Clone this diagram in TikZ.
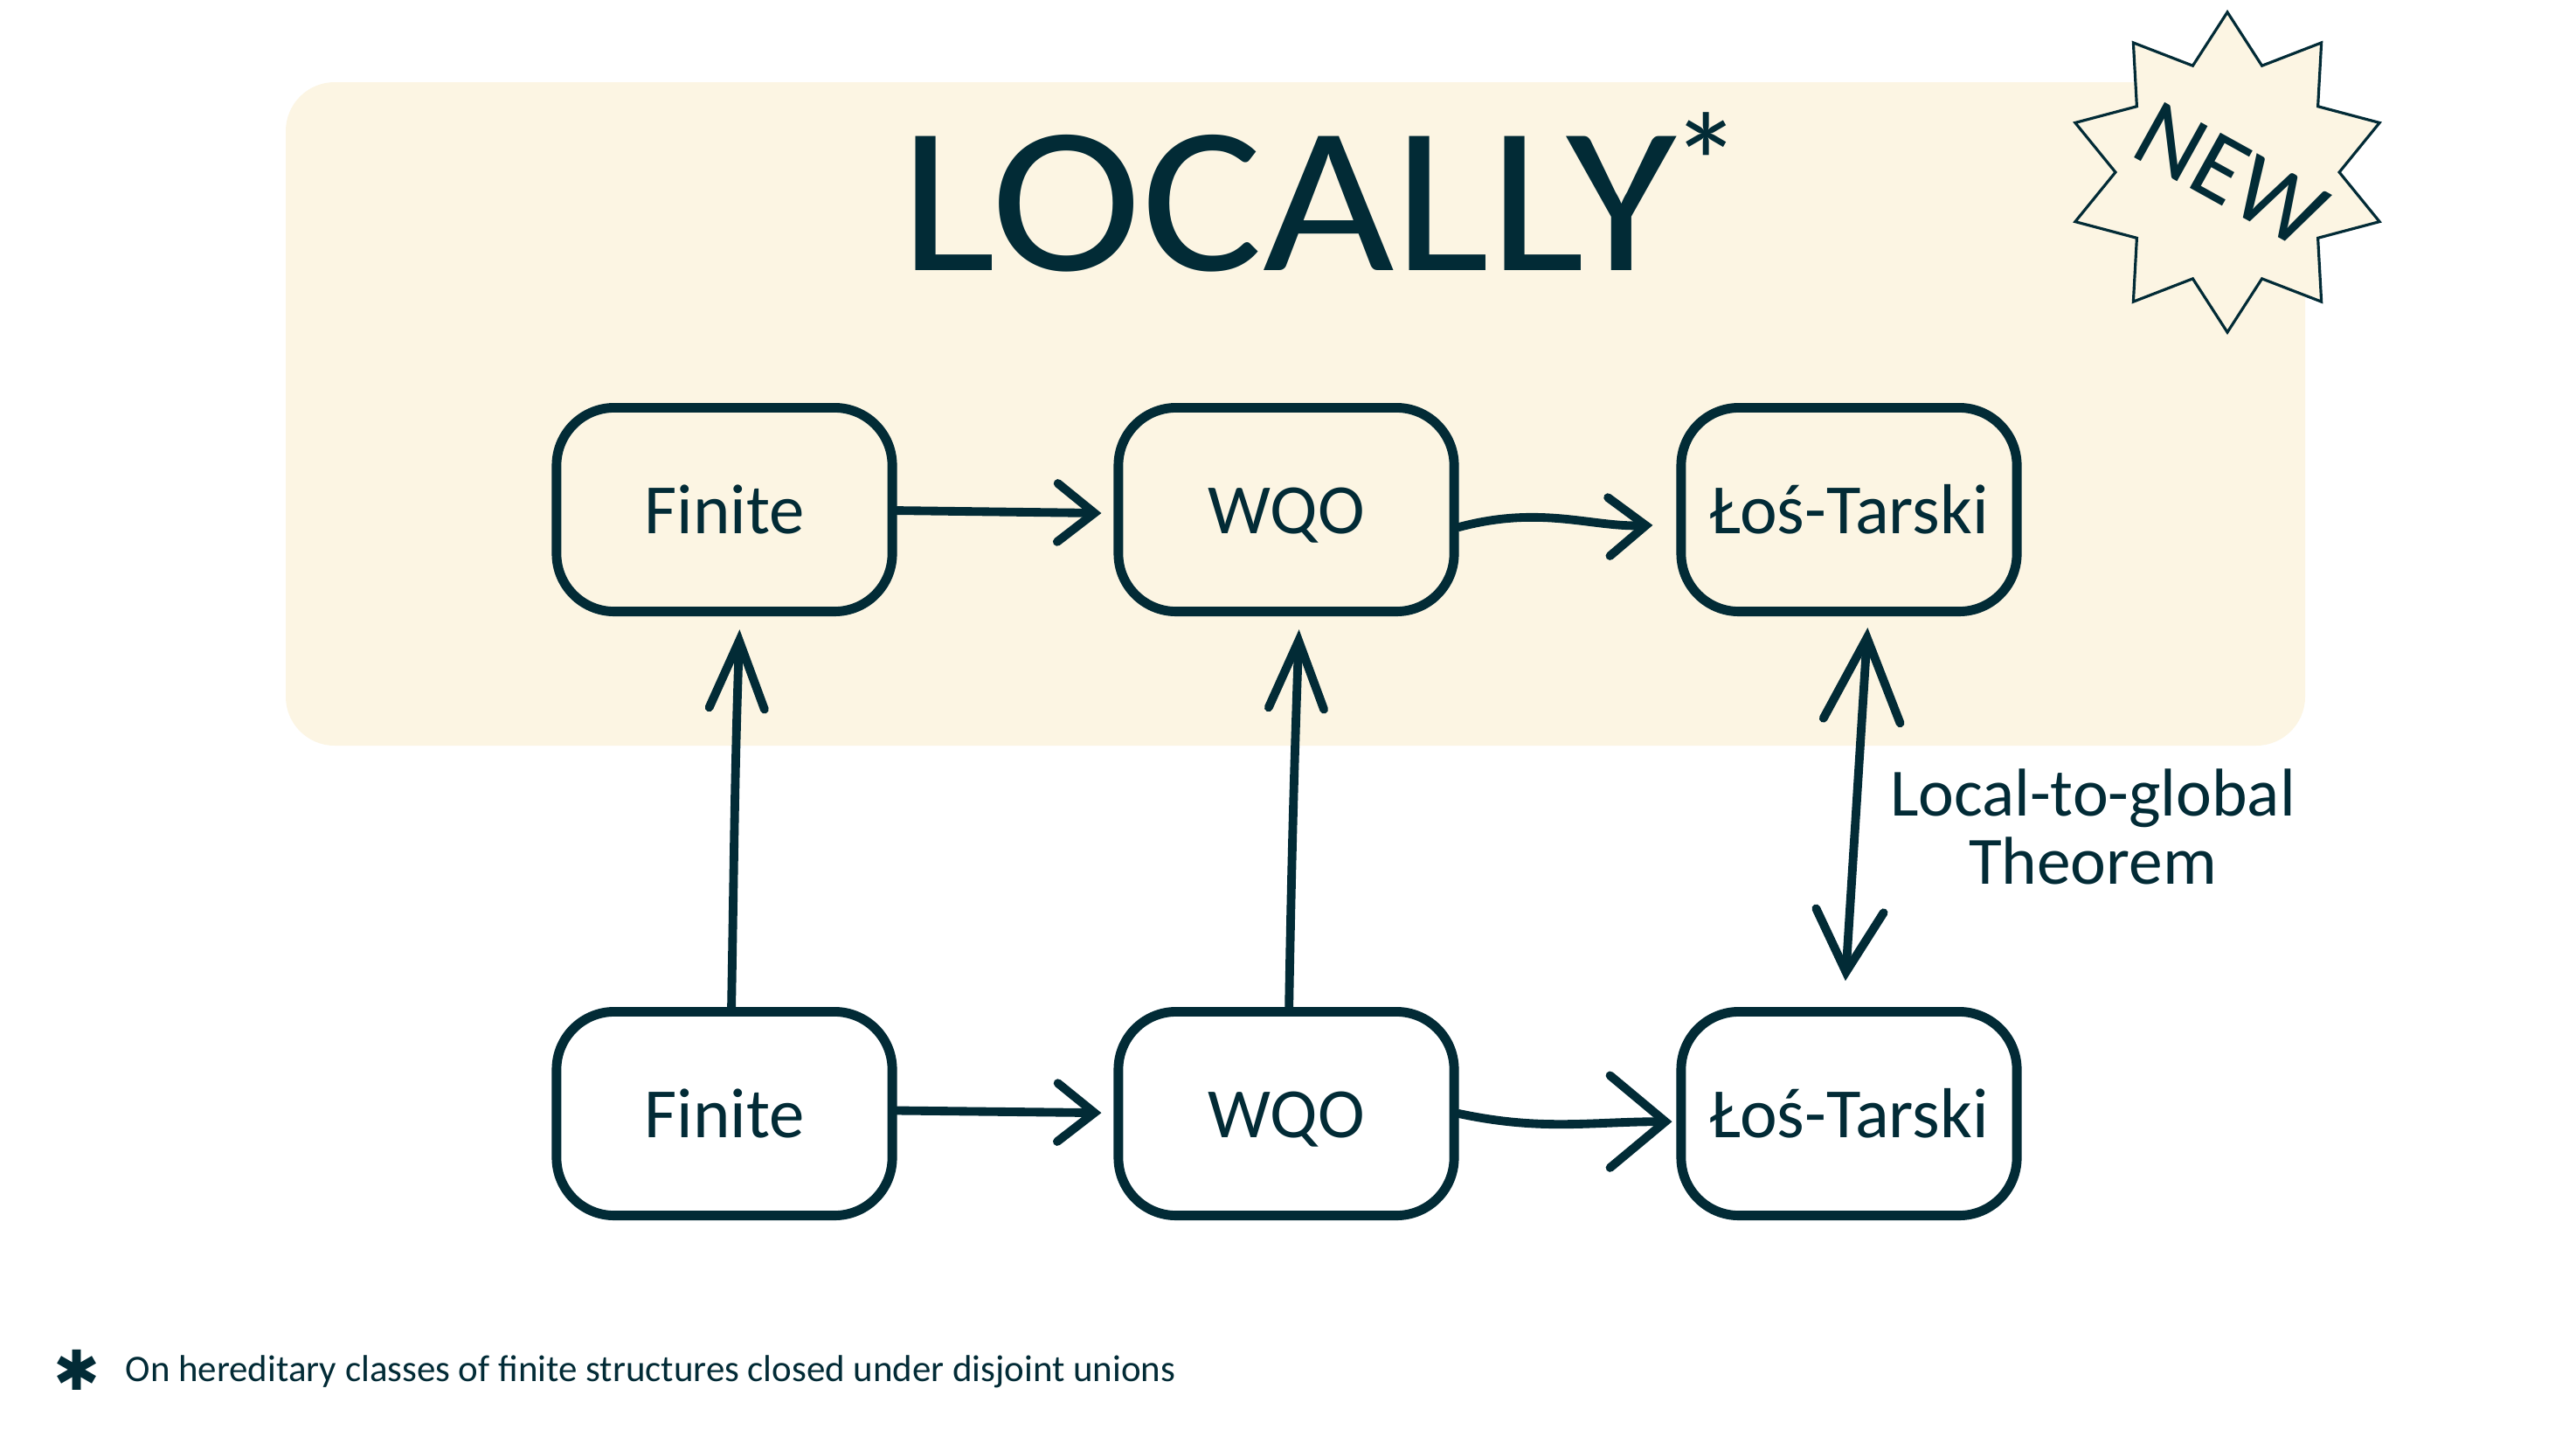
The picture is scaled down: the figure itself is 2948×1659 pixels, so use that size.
\documentclass[tikz,border=0pt]{standalone}
\usepackage{fontspec}
\setmainfont{Carlito}
\newfontfamily\marksfont{DejaVu Sans}
\usetikzlibrary{arrows.meta, shapes.geometric}
\definecolor{inkteal}{HTML}{022B36}
\definecolor{cream}{HTML}{FCF5E3}
\tikzset{
  stagebox/.style = {draw = inkteal, line width = 3.1pt, rounded corners = 0.66cm,
    minimum width = 3.84cm, minimum height = 2.33cm, text = inkteal,
    text height = 19pt, text depth = 3.6pt,
    font = \fontsize{23}{26}\selectfont},
  sketcharrow/.style = {draw = inkteal, line width = 2.8pt, line cap = round,
    -{Straight Barb[length = 12pt, width = 19pt, line cap = round]}}
}

\begin{document}
\begin{tikzpicture}[x = 0.01cm, y = -0.01cm]
  % page and the shaded local area
  \useasboundingbox (0, 0) rectangle (2948, 1659);
  \fill[white] (0, 0) rectangle (2948, 1659);
  \fill[cream, rounded corners = 0.56cm] (327, 94) rectangle (2638, 853);
  \node[anchor = base west, inner sep = 0, text = inkteal,
    font = \fontsize{68}{68}\selectfont] (title) at (1030, 309)
    {\scalebox{1.087}[1]{LOCALLY}\kern-2pt\raisebox{18.5pt}{\fontsize{46}{46}\selectfont *}};
  % starburst tag
  \node[star, star points = 10, star point ratio = 1.43, minimum size = 3.66cm,
    inner sep = 0, draw = inkteal, fill = cream, line width = 0.9pt]
    (newstar) at (2549, 197) {};
  \node[rotate = -29, text = inkteal, font = \fontsize{32}{32}\selectfont]
    (newtag) at (2553, 200) {NEW};
  % both rows of boxes
  \foreach \row/\y in {T/583, B/1274}{
    \node[stagebox] (fin\row) at (829, \y) {Finite};
    \node[stagebox] (wqo\row) at (1472, \y) {WQO};
    \node[stagebox] (los\row) at (2116, \y) {Łoś-Tarski};
  }
  % arrows along the rows
  \draw[sketcharrow, shorten >= 4pt] ([yshift = -0.3pt]finT.east) -- ([yshift = -1.2pt]wqoT.west);
  \draw[sketcharrow, shorten >= 7.7pt] ([yshift = -5.7pt]wqoT.east)
    to[out = 15, in = 182] ([yshift = -4.8pt]losT.west);
  \draw[sketcharrow, shorten >= 4pt] ([yshift = 1pt]finB.east) -- ([yshift = 0.2pt]wqoB.west);
  \draw[sketcharrow, shorten >= 1.4pt,
    -{Straight Barb[length = 18pt, width = 30pt, line cap = round]}]
    (wqoB.east) to[out = -12, in = 180] ([yshift = -2.6pt]losB.west);
  % arrows between the rows
  \draw[sketcharrow, shorten >= 4.3pt,
    -{Straight Barb[length = 22pt, width = 18pt, line cap = round]}]
    ([xshift = 2.3pt]finB.north) to[out = 89, in = -92] ([xshift = 5.1pt]finT.south);
  \draw[sketcharrow, shorten >= 4.3pt,
    -{Straight Barb[length = 22pt, width = 18pt, line cap = round]}]
    ([xshift = 0.9pt]wqoB.north) to[out = 89, in = -92] ([xshift = 4.3pt]wqoT.south);
  \draw[sketcharrow, shorten <= 8.5pt, shorten >= 3.7pt,
    {Straight Barb[length = 20pt, width = 22pt, line cap = round]}-{Straight Barb[length = 27pt, width = 25pt, line cap = round]}]
    ([xshift = -1.7pt]losB.north) -- ([xshift = 6.3pt]losT.south);
  \node[align = center, text = inkteal, font = \fontsize{22}{22}\selectfont]
    (ltglabel) at (2395, 946) {Local-to-global\\Theorem};
  % footnote
  \node[text = inkteal, inner sep = 0, font = \fontsize{18}{18}\marksfont]
    (fnmark) at (88, 1567) {✱};
  \node[anchor = base west, inner sep = 0, text = inkteal,
    font = \fontsize{12.2}{14}\selectfont] (fntext) at (143, 1580)
    {On hereditary classes of finite structures closed under disjoint unions};
\end{tikzpicture}
\end{document}
